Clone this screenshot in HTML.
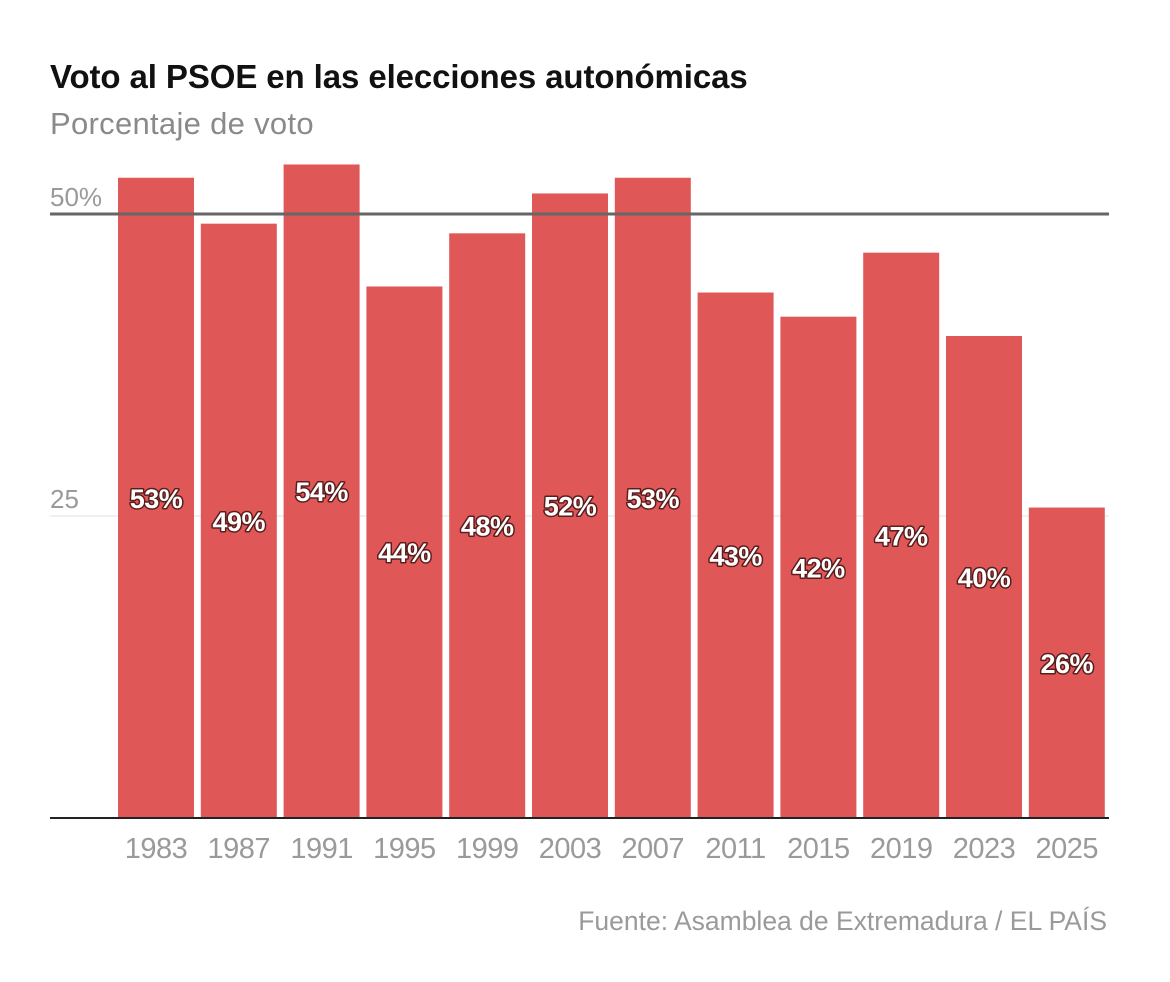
<!DOCTYPE html>
<html><head><meta charset="utf-8">
<style>
body{margin:0;background:#fff;width:1170px;height:982px;overflow:hidden;font-family:"Liberation Sans",sans-serif;}
.title{position:absolute;left:50px;top:58px;font-size:33px;font-weight:bold;color:#111;letter-spacing:-0.1px}
.sub{position:absolute;left:50px;top:106px;font-size:31px;color:#8a8a8a;letter-spacing:0.3px}
.src{position:absolute;right:63px;top:906px;font-size:26.5px;color:#9a9a9a;letter-spacing:0px}
svg{position:absolute;left:0;top:0}
</style></head><body>
<div class="title">Voto al PSOE en las elecciones autonómicas</div>
<div class="sub">Porcentaje de voto</div>
<svg id="chart" width="1170" height="982"></svg>
<div class="src">Fuente: Asamblea de Extremadura / EL PAÍS</div>
<script>
const categories=["1983","1987","1991","1995","1999","2003","2007","2011","2015","2019","2023","2025"];
const values=[53,49.2,54.1,44,48.4,51.7,53,43.5,41.5,46.8,39.9,25.7];
const labels=["53%","49%","54%","44%","48%","52%","53%","43%","42%","47%","40%","26%"];
const ticks=[25,50];
const tickLabels=["25","50%"];
const svg=document.getElementById('chart');
const NS='http://www.w3.org/2000/svg';
const y0=818,pxPer=12.08,x0=118,pitch=82.8,bw=76;
const y=v=>y0-v*pxPer;
const x=i=>x0+i*pitch;
function mk(t,a){const e=document.createElementNS(NS,t);for(const k in a)e.setAttribute(k,a[k]);svg.appendChild(e);return e;}
let g=mk('line',{x1:50,x2:1109,y1:y(ticks[0]),y2:y(ticks[0]),stroke:'#e2e2e2','stroke-width':1});


ticks.forEach((t,i)=>{const tx=mk('text',{x:50,y:y(t)-8,'font-size':26,fill:'#9a9a9a','font-family':'Liberation Sans, sans-serif'});tx.textContent=tickLabels[i];

});
values.forEach((v,i)=>{
const r=mk('rect',{x:x(i),y:y(v),width:bw,height:y0-y(v),fill:'#e05757'});


const t=mk('text',{x:x(i)+bw/2,y:(y(v)+y0)/2+10,'text-anchor':'middle','font-size':27,'font-weight':'bold',fill:'#fff',stroke:'#5a1d1d','stroke-width':3,'paint-order':'stroke','stroke-linejoin':'round','font-family':'Liberation Sans, sans-serif','letter-spacing':'-0.5'});
t.textContent=labels[i];


const c=mk('text',{x:x(i)+bw/2,y:858,'text-anchor':'middle','font-size':29,fill:'#9a9a9a','font-family':'Liberation Sans, sans-serif','letter-spacing':'-0.5'});
c.textContent=categories[i];


});
let l50=mk('line',{x1:50,x2:1109,y1:y(ticks[1]),y2:y(ticks[1]),stroke:'#666','stroke-width':3});


let base=mk('line',{x1:50,x2:1109,y1:y0,y2:y0,stroke:'#222','stroke-width':2});


</script>
</body></html>
